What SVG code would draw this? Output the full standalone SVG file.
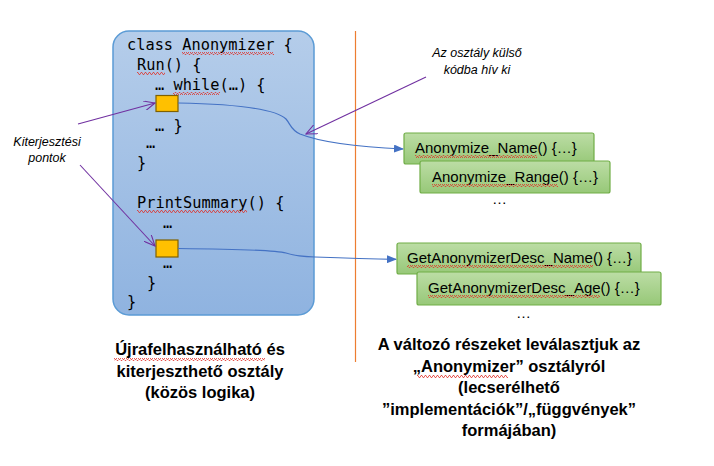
<svg xmlns="http://www.w3.org/2000/svg" width="714" height="466" viewBox="0 0 714 466">
<style>
.code{font-family:"DejaVu Sans Mono","Liberation Mono",monospace;font-size:15.3px;fill:#000}
.fn{font-family:"Liberation Sans",Arial,sans-serif;font-size:15px;fill:#000}
.note{font-family:"Liberation Sans",Arial,sans-serif;font-size:12.5px;font-style:italic;fill:#000}
.lbl{font-family:"Liberation Sans",Arial,sans-serif;font-size:16.5px;font-weight:bold;fill:#000;text-anchor:middle}
.gbox{fill:url(#gG);stroke:#70ad47;stroke-width:1.2}
.ext{fill:#ffc000;stroke:#7f6000;stroke-width:1.2}
.call{fill:none;stroke:#4472c4;stroke-width:1.2;marker-end:url(#mB)}
.ptr{fill:none;stroke:#7030a0;stroke-width:1.1;marker-end:url(#mP)}
.sq{fill:url(#wave)}
</style>
<defs>
<linearGradient id="gB" x1="0" y1="0" x2="0" y2="1"><stop offset="0" stop-color="#b5cdea"/><stop offset="1" stop-color="#8fb3e0"/></linearGradient>
<linearGradient id="gG" x1="0" y1="0" x2="0" y2="1"><stop offset="0" stop-color="#bcdda5"/><stop offset="1" stop-color="#97c878"/></linearGradient>
<pattern id="wave" patternUnits="userSpaceOnUse" width="4" height="3"><path d="M0,2.5 L1,0.5 L2,0.5 L3,2.5 L4,2.5" fill="none" stroke="#e0342c" stroke-width="0.8"/></pattern>
<marker id="mB" markerWidth="10" markerHeight="8" refX="9" refY="4" orient="auto" markerUnits="userSpaceOnUse"><path d="M0,0 L10,4 L0,8 Z" fill="#4472c4"/></marker>
<marker id="mP" markerWidth="12" markerHeight="10" refX="11" refY="5" orient="auto" markerUnits="userSpaceOnUse"><path d="M0,0 L11,5 L0,10" fill="none" stroke="#7030a0" stroke-width="1.1"/></marker>
</defs>
<rect width="714" height="466" fill="#fff"/>

<line x1="355.5" y1="31" x2="355.5" y2="362" stroke="#ed7d31" stroke-width="1.2"/>

<g id="anonymizer-class">
<rect x="113" y="31" width="201" height="284" rx="16" fill="url(#gB)" stroke="#5b9bd5" stroke-width="1.5"/>
<text class="code" x="127" y="50">class Anonymizer {</text>
<text class="code" x="137" y="70">Run() {</text>
<text class="code" x="155" y="90">… while(…) {</text>
<text class="code" x="155" y="131">… }</text>
<text class="code" x="146" y="148">…</text>
<text class="code" x="137" y="168">}</text>
<text class="code" x="137" y="208">PrintSummary() {</text>
<text class="code" x="163" y="228">…</text>
<text class="code" x="163" y="268">…</text>
<text class="code" x="147" y="288">}</text>
<text class="code" x="127" y="307">}</text>
<rect class="sq" x="182" y="52" width="92" height="3"/>
<rect class="sq" x="137" y="72" width="28" height="3"/>
<rect class="sq" x="173" y="92" width="47" height="3"/>
<rect class="sq" x="137" y="210" width="110" height="3"/>
</g>
<g id="ext-point-1"><rect class="ext" x="156" y="95.5" width="22" height="16"/></g>
<g id="ext-point-2"><rect class="ext" x="156" y="240" width="22" height="17"/></g>

<g id="anonymize-name"><rect class="gbox" x="404" y="133" width="190" height="31" rx="2"/><text class="fn" x="415" y="153">Anonymize_Name() {…}</text><rect class="sq" x="415" y="155" width="122" height="3"/></g>
<g id="anonymize-range"><rect class="gbox" x="420" y="161" width="190" height="32" rx="2"/><text class="fn" x="432" y="182">Anonymize_Range() {…}</text><rect class="sq" x="432" y="184" width="126" height="3"/></g>
<text class="fn" x="492" y="204">…</text>
<g id="desc-name"><rect class="gbox" x="397" y="243" width="244" height="31" rx="2"/><text class="fn" x="407" y="263">GetAnonymizerDesc_Name() {…}</text><rect class="sq" x="407" y="265" width="186" height="3"/></g>
<g id="desc-age"><rect class="gbox" x="417" y="272" width="244" height="33" rx="2"/><text class="fn" x="428" y="293">GetAnonymizerDesc_Age() {…}</text><rect class="sq" x="428" y="295" width="172" height="3"/></g>
<text class="fn" x="516" y="318">…</text>

<g id="note-external"><text class="note" x="477" y="57" text-anchor="middle">Az osztály külső</text><text class="note" x="477" y="74" text-anchor="middle">kódba hív ki</text></g>
<g id="note-points"><text class="note" x="47" y="146" text-anchor="middle">Kiterjesztési</text><text class="note" x="47" y="162" text-anchor="middle">pontok</text></g>

<g id="label-left">
<text class="lbl" x="200" y="355">Újrafelhasználható és</text>
<text class="lbl" x="200" y="377">kiterjeszthető osztály</text>
<text class="lbl" x="200" y="398">(közös logika)</text>
<rect class="sq" x="114" y="358" width="151" height="3"/>
</g>
<g id="label-right">
<text class="lbl" x="509" y="350">A változó részeket leválasztjuk az</text>
<text class="lbl" x="509" y="372">„Anonymizer” osztályról</text>
<text class="lbl" x="509" y="393">(lecserélhető</text>
<text class="lbl" x="509" y="415">”implementációk”/„függvények”</text>
<text class="lbl" x="509" y="436">formájában)</text>
<rect class="sq" x="417" y="375" width="91" height="3"/>
</g>

<g id="connectors">
<path class="call" d="M178,103 C230,104 275,108 286,119 C291,125 291,130 300,134 C320,142 360,147 403,149"/>
<path class="call" d="M178,248.5 C230,249 275,250 286,253 C292,255 300,256.5 315,257 C340,258 370,259 396,259.3"/>
<path class="ptr" d="M426,77 L306,134"/>
<path class="ptr" d="M78,124 L155,103"/>
<path class="ptr" d="M80,165 L155,246"/>
</g>
</svg>
